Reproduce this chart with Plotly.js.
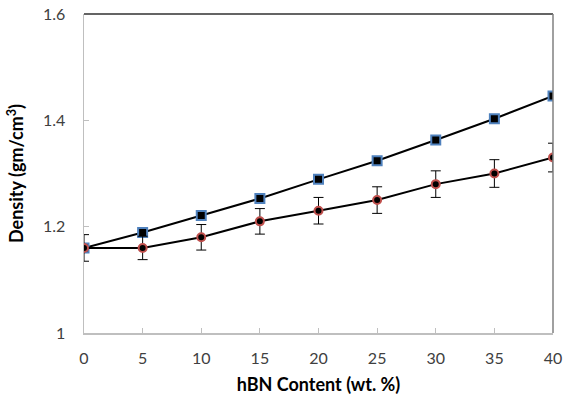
<!DOCTYPE html>
<html>
<head>
<meta charset="utf-8">
<script src="https://cdn.plot.ly/plotly-3.0.1.min.js"></script>
<style>html,body{margin:0;padding:0;background:#fff;}#chart{width:565px;height:405px;}</style>
</head>
<body>
<div id="chart"></div>
<script>
const hbnContent = [0, 5, 10, 15, 20, 25, 30, 35, 40];
const densityTheoretical = [1.160, 1.189, 1.221, 1.253, 1.289, 1.324, 1.363, 1.403, 1.446];
const densityMeasured = [1.160, 1.160, 1.180, 1.210, 1.230, 1.250, 1.280, 1.300, 1.330];
const densityError = [0.025, 0.022, 0.024, 0.024, 0.025, 0.025, 0.025, 0.026, 0.027];
const yTicks = [1, 1.2, 1.4, 1.6];
const yTickText = ['1', '1.2', '1.4', '1.6'];
const xTicks = [0, 5, 10, 15, 20, 25, 30, 35, 40];

const fontFam = 'Lato, "Open Sans", sans-serif';

const traces = [
  {
    x: hbnContent, y: densityTheoretical, type: 'scatter', mode: 'lines+markers',
    line: {color: '#000000', width: 2},
    marker: {symbol: 'square', size: 9, color: '#000000', line: {color: '#4f81bd', width: 2}},
    showlegend: false, hoverinfo: 'skip'
  },
  {
    x: hbnContent, y: densityMeasured, type: 'scatter', mode: 'lines+markers',
    line: {color: '#000000', width: 2},
    marker: {symbol: 'circle', size: 8, color: '#000000', line: {color: '#c0504d', width: 2}},
    error_y: {type: 'data', array: densityError, visible: true, color: '#000000', thickness: 1, width: 5},
    showlegend: false, hoverinfo: 'skip'
  }
];

const layout = {
  width: 565, height: 405,
  margin: {l: 84, r: 12, t: 14, b: 72},
  paper_bgcolor: '#ffffff', plot_bgcolor: '#ffffff',
  font: {family: fontFam, color: '#404040'},
  xaxis: {
    range: [0, 40], tickvals: xTicks, ticktext: xTicks.map(String),
    showgrid: false, zeroline: false, showline: true, linecolor: '#bfbfbf', linewidth: 1.5,
    ticks: 'inside', ticklen: 5, tickcolor: '#bfbfbf', tickwidth: 1,
    tickfont: {size: 16, color: '#404040', family: fontFam},
    ticklabelstandoff: 10,
    title: {text: 'hBN Content (wt. %)', font: {size: 18, color: '#000000', family: fontFam, weight: 'bold'}, standoff: 12}
  },
  yaxis: {
    range: [1, 1.6], tickvals: yTicks, ticktext: yTickText,
    showgrid: false, zeroline: false, showline: true, linecolor: '#bfbfbf', linewidth: 1.5,
    ticks: 'inside', ticklen: 5, tickcolor: '#bfbfbf', tickwidth: 1,
    tickfont: {size: 16, color: '#404040', family: fontFam},
    ticklabelstandoff: 14,
    title: {text: 'Density (gm/cm<sup>3</sup>)', font: {size: 18, color: '#000000', family: fontFam, weight: 'bold'}, standoff: 14}
  },
  shapes: [
    {type: 'line', xref: 'paper', yref: 'paper', x0: 0, x1: 1, y0: 1, y1: 1, line: {color: '#303030', width: 1.5}},
    {type: 'line', xref: 'paper', yref: 'paper', x0: 1, x1: 1, y0: 0, y1: 1, line: {color: '#808080', width: 1.5}}
  ]
};

Plotly.newPlot('chart', traces, layout, {displayModeBar: false, staticPlot: true});
</script>
</body>
</html>
